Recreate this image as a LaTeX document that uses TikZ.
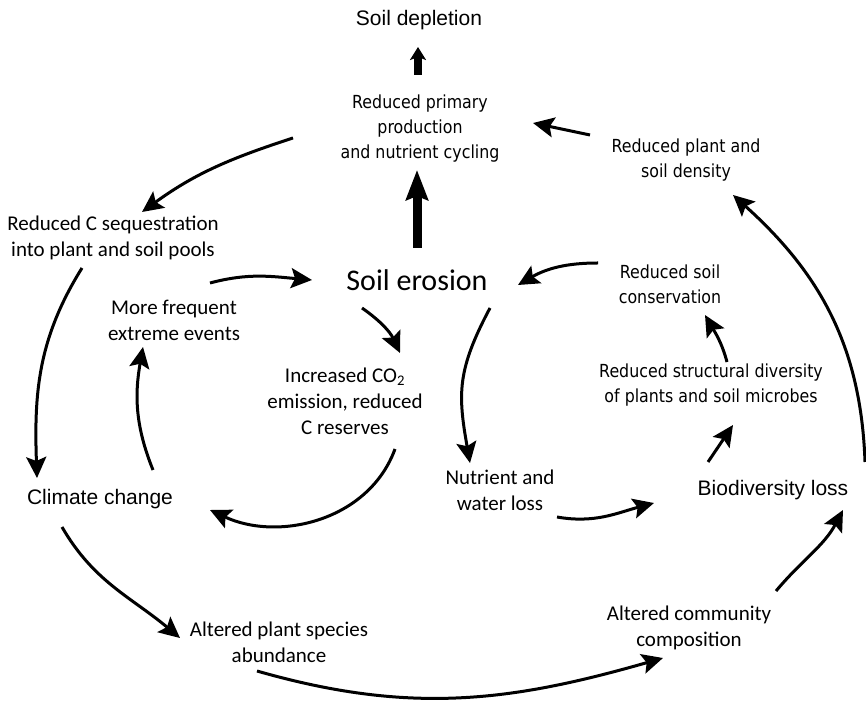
\documentclass[tikz,border=0pt]{standalone}
\usepackage{fontspec}
\setmainfont{Carlito}
\newfontfamily\arialfont{Liberation Sans}
\newfontfamily\tahomafont[FakeStretch=0.88]{DejaVu Sans}
\usetikzlibrary{positioning,arrows.meta,calc}

\begin{document}
\begin{tikzpicture}[
    x=1pt, y=1pt,
    cal/.style={align=center, inner sep=0pt, font=\fontsize{21}{26}\selectfont},
    ari/.style={align=center, inner sep=0pt, font=\arialfont\fontsize{21}{26}\selectfont},
    tah/.style={align=center, inner sep=0pt, font=\tahomafont\fontsize{18}{25}\selectfont},
    link/.style={line width=3pt,
        -{Stealth[length=21pt 0 0,width=20pt 0 0,inset=4pt 0 0]}},
    biglink/.style={line width=9pt, -{Stealth[length=30pt 0 0,width=22pt 0 0,inset=4pt 0 0]}},
    shortlink/.style={line width=8pt, -{Stealth[length=13pt 0 0,width=16pt 0 0,inset=3pt 0 0]}}
]
    \useasboundingbox (0,0) rectangle (866,701);

    \node[ari] (dep) at (419,681) {Soil depletion};
    \node[tah] (prim) at (420,572) {Reduced primary\\production\\and nutrient cycling};
    \node[tah] (dens) at (686,541) {Reduced plant and\\soil density};
    \node[cal] (seq) at (113,463) {Reduced C sequestration\\into plant and soil pools};
    \node[cal, font=\fontsize{30}{36}\selectfont] (ero) at (417,421) {Soil erosion};
    \node[cal] (freq) at (174,381) {More frequent\\extreme events};
    \node[tah] (cons) at (670,417) {Reduced soil\\conservation};
    \node[cal] (co2) at (345,300) {Increased CO\textsubscript{2}\\emission, reduced\\C reserves};
    \node[tah] (struct) at (711,316) {Reduced structural diversity\\of plants and soil microbes};
    \node[ari] (clim) at (100,202) {Climate change};
    \node[cal] (nutr) at (500,211) {Nutrient and\\water loss};
    \node[ari] (biod) at (773,211) {Biodiversity loss};
    \node[cal] (alt) at (279,59) {Altered plant species\\abundance};
    \node[cal] (comm) at (689,73) {Altered community\\composition};

    \draw[shortlink] ($(prim)+(-2,54)$) -- ($(dep)+(-1,-27)$);
    \draw[biglink] ($(ero)+(0,32)$) -- ($(prim)+(-3,-41)$);
    \draw[link] ($(dens)+(-96,25)$) -- ($(prim)+(113,6)$);
    \draw[link] ($(prim)+(-127,-9)$) to[out=198,in=36] ($(seq)+(29,26)$);
    \draw[link] ($(seq)+(-31,-30)$) to[out=238,in=92] ($(clim)+(-63,21)$);
    \draw[link] ($(clim)+(53,29)$) to[out=112,in=-100] ($(freq)+(-31,-27)$);
    \draw[link] ($(freq)+(36,37)$) to[out=15,in=175] ($(ero)+(-105,0)$);
    \draw[link] ($(cons)+(-72,21)$) to[out=180,in=30] ($(ero)+(101,-5)$);
    \draw[link] ($(ero)+(-55,-28)$) to[out=-35,in=115] ($(co2)+(55,48)$);
    \draw[link] ($(ero)+(73,-28)$) to[out=-118,in=100,looseness=1.15] ($(nutr)+(-30,27)$);
    \draw[link] ($(co2)+(50,-48)$) to[out=-110,in=-25] ($(clim)+(110,-11)$);
    \draw[link] ($(clim)+(-38,-28)$) to[out=-60,in=140] ($(alt)+(-99,4)$);
    \draw[link] ($(alt)+(-22,-29)$) to[out=-16,in=196] ($(comm)+(-26,-30)$);
    \draw[link] ($(comm)+(87,37)$) to[out=50,in=-118] ($(biod)+(70,-20)$);
    \draw[link] ($(nutr)+(57,-27)$) to[out=-10,in=195] ($(biod)+(-119,-13)$);
    \draw[link] ($(biod)+(-65,28)$) -- ($(struct)+(22,-40)$);
    \draw[link] ($(struct)+(16,23)$) to[out=105,in=-60] ($(cons)+(35,-31)$);
    \draw[link] ($(biod)+(92,28)$) to[out=92,in=-42] ($(dens)+(47,-35)$);
\end{tikzpicture}
\end{document}
